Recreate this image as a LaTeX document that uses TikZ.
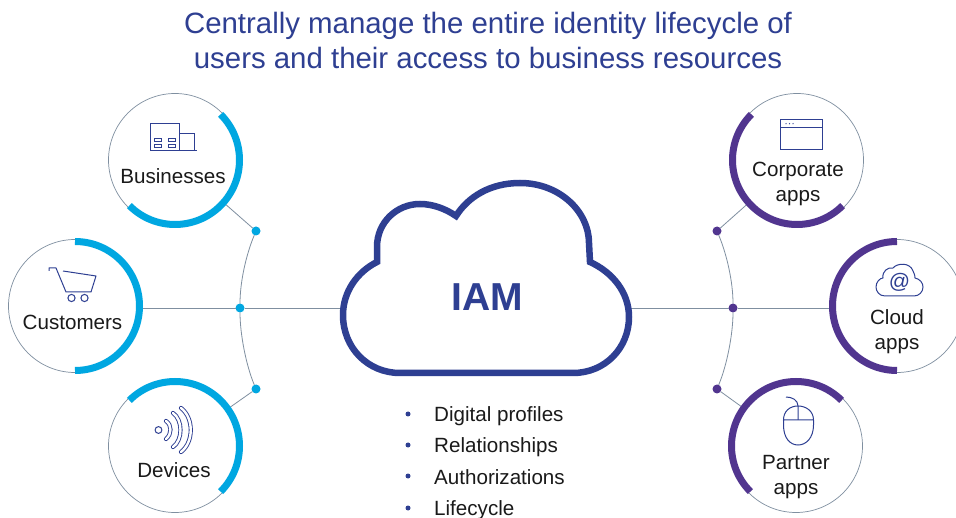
\documentclass[tikz,border=0pt]{standalone}
\usepackage{fontspec}
\setmainfont{Liberation Sans}
\definecolor{navy}{HTML}{2E3F92}
\definecolor{cyanb}{HTML}{00A7E1}
\definecolor{purp}{HTML}{51358F}
\definecolor{thin}{HTML}{7F8FA0}
\definecolor{ink}{HTML}{1A1A1A}
\newcommand{\thickarc}[4]{\draw[#4] (#1) ++({-(#2)}:64.5) arc[start angle={-(#2)},end angle={-(#3)},radius=64.5];}
\tikzset{
  ring/.style={circle,draw=thin,line width=0.7pt,minimum size=133pt,inner sep=0pt,outer sep=0pt},
  conn/.style={draw=thin,line width=0.8pt},
  cyanarc/.style={draw=cyanb,line width=7pt},
  purparc/.style={draw=purp,line width=7pt},
  cyandot/.style={circle,fill=cyanb,minimum size=9pt,inner sep=0pt,outer sep=0pt},
  purpdot/.style={circle,fill=purp,minimum size=9pt,inner sep=0pt,outer sep=0pt},
  lab/.style={text=ink,font=\fontsize{20.6}{25}\selectfont,align=center,inner sep=0pt},
  titletext/.style={text=navy,font=\fontsize{29.4}{35}\selectfont,align=center,inner sep=0pt},
  listtext/.style={text=ink,font=\fontsize{20.6}{25}\selectfont,anchor=base west,inner sep=0pt},
  bul/.style={circle,fill=navy,minimum size=5pt,inner sep=0pt},
  icon/.style={draw=navy,line width=1pt},
  wave/.style={draw=navy,double=white,double distance=2.4pt,line width=0.9pt,line cap=round},
}
\begin{document}
\begin{tikzpicture}[x=1pt,y=-1pt]
\clip (0,0) rectangle (956,518);
\fill[white] (0,0) rectangle (956,518);
% title
\node[titletext] (title) at (488,40) {Centrally manage the entire identity lifecycle of\\users and their access to business resources};
% rings
\node[ring] (bus) at (175,160) {};
\node[ring] (cus) at (75,306) {};
\node[ring] (dev) at (175,446) {};
\node[ring] (cor) at (797,160) {};
\node[ring] (clo) at (897,306) {};
\node[ring] (par) at (796,446) {};
% dots
\node[cyandot] (dl1) at (256,231) {};
\node[cyandot] (dl2) at (240,308) {};
\node[cyandot] (dl3) at (256,389) {};
\node[purpdot] (dr1) at (717,231) {};
\node[purpdot] (dr2) at (733,308) {};
\node[purpdot] (dr3) at (717,389) {};
\coordinate (cloudL) at (343,308);
\coordinate (cloudR) at (629,308);
% connectors
\draw[conn] (bus) -- (dl1);
\draw[conn] (dev) -- (dl3);
\draw[conn] (cor) -- (dr1);
\draw[conn] (par) -- (dr3);
\draw[conn] (cus.east |- dl2) -- (dl2);
\draw[conn] (dl2) -- (cloudL);
\draw[conn] (clo.west |- dr2) -- (dr2);
\draw[conn] (dr2) -- (cloudR);
\draw[conn] (dl1) .. controls +(-10,24) and +(0,-26) .. (dl2);
\draw[conn] (dl2) .. controls +(0,26) and +(-10,-24) .. (dl3);
\draw[conn] (dr1) .. controls +(10,24) and +(0,-26) .. (dr2);
\draw[conn] (dr2) .. controls +(0,26) and +(10,-24) .. (dr3);
% thick arcs
\thickarc{bus}{45}{-135}{cyanarc}
\thickarc{cus}{90}{-90}{cyanarc}
\thickarc{dev}{135}{-45}{cyanarc}
\thickarc{cor}{135}{315}{purparc}
\thickarc{clo}{90}{270}{purparc}
\thickarc{par}{45}{225}{purparc}
% IAM cloud
\draw[navy,line width=6.5pt,fill=white,miter limit=4]
 (377,262) -- (377,247) .. controls (377,222) and (397,204) .. (420,204)
 .. controls (433,204) and (446,209) .. (456,216)
 .. controls (468,197) and (490,183) .. (520,183)
 .. controls (560,183) and (589,212) .. (589,243) -- (590,262)
 .. controls (612,272) and (629,292) .. (629,317)
 .. controls (629,348) and (605,373) .. (573,373) -- (400,373)
 .. controls (368,373) and (343,348) .. (343,315)
 .. controls (343,292) and (357,272) .. (377,262) -- cycle;
\node[text=navy,font=\bfseries\fontsize{39}{39}\selectfont,inner sep=0pt] (iam) at (487,297) {IAM};
% list
\node[bul] (b1) at (408,414) {}; \node[listtext] (l1) at (434,422) {Digital profiles};
\node[bul] (b2) at (408,445) {}; \node[listtext] (l2) at (434,453) {Relationships};
\node[bul] (b3) at (408,476) {}; \node[listtext] (l3) at (434,484) {Authorizations};
\node[bul] (b4) at (408,508) {}; \node[listtext] (l4) at (434,515) {Lifecycle};
% labels
\node[lab] (tbus) at (173,176) {Businesses};
\node[lab] (tcus) at (72.5,322.5) {Customers};
\node[lab] (tdev) at (174,470) {Devices};
\node[lab] (tcor) at (798,184) {Corporate\\apps};
\node[lab] (tclo) at (897,332) {Cloud\\apps};
\node[lab] (tpar) at (796,477) {Partner\\apps};
% icon businesses
\draw[icon] (150,123.5) rectangle (179,151);
\draw[icon] (179,133.5) -- (194.5,133.5) -- (194.5,151);
\draw[icon] (179,151) -- (197,151);
\foreach \xx in {154.5,168}{\foreach \yy in {138.5,144}{\draw[icon,line width=0.8pt] (\xx,\yy) rectangle ++(7,3);}}
% icon cart
\draw[icon,line join=round] (49,271) -- (49,268) -- (56,268) -- (66,292) -- (91,292) -- (96,276) -- (63,271);
\draw[icon] (71.5,298) circle (3.6);
\draw[icon] (84.5,298) circle (3.6);
% icon devices
\draw[icon] (158.5,430) circle (3.4);
\draw[wave] (166,421) .. controls (172,425) and (172,434) .. (166,439);
\draw[wave] (173,413) .. controls (183,420) and (183,440) .. (173,447);
\draw[wave] (181,408) .. controls (194,418) and (194,442) .. (181,452);
% icon window
\draw[icon] (780,120) rectangle (822,150);
\draw[icon] (780,127.5) -- (822,127.5);
\foreach \xx in {786,789.5,793}{\fill[navy] (\xx,123.7) circle (0.7);}
% icon cloud
\draw[icon,line join=round] (885,296) .. controls (879,296) and (876,291) .. (876,287)
 .. controls (876,282) and (880,278) .. (883,278)
 .. controls (882,271) and (888,267) .. (893,268)
 .. controls (897,263) and (910,262) .. (913,271)
 .. controls (915,275) and (915,277) .. (915,278)
 .. controls (920,279) and (923,283) .. (923,287)
 .. controls (923,292) and (919,296) .. (914,296) -- cycle;
\node[text=navy,font=\fontsize{21}{21}\selectfont,inner sep=0pt] (atsign) at (899.5,282) {@};
% icon mouse
\draw[icon] (783.5,420) -- (783.5,425) .. controls (783.5,438) and (790,445) .. (798,445) .. controls (806,445) and (813.5,438) .. (813.5,425) -- (813.5,420) .. controls (813.5,411) and (806,406) .. (798,406) .. controls (790,406) and (783.5,411) .. (783.5,420) -- (813.5,420);
\draw[icon] (798,420) -- (798,406) .. controls (798,400) and (792,397) .. (786,397);
\end{tikzpicture}
\end{document}
